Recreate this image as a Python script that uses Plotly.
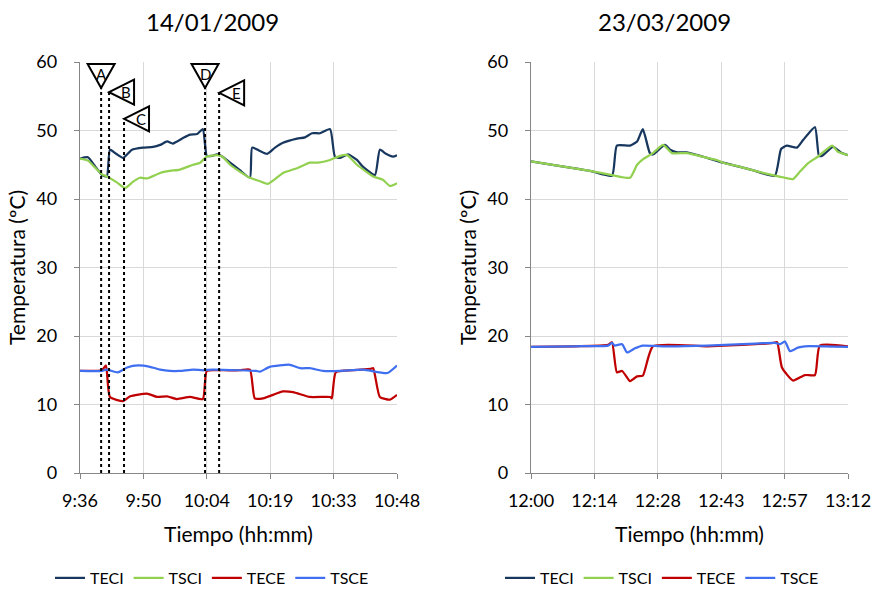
import plotly.graph_objects as go

# ---- 14/01/2009 (minutes elapsed since 9:36) ----
l_teci_t = [0, 1.8, 3.4, 5.0, 6.1, 6.8, 8.2, 9.8, 11.8, 14.3, 16.6, 18.2, 19.8, 21.1, 23.4, 25.0,
            26.6, 27.9, 28.8, 30.0, 31.1, 32.3, 34.1, 36.3, 38.6, 39.1, 40.9, 42.5, 44.3, 46.1,
            49.3, 51.1, 52.7, 54.5, 56.8, 57.9, 59.1, 60.9, 62.9, 64.3, 67.0, 68.1, 69.5, 71.1, 72.0]
l_teci_v = [45.9, 46.1, 44.8, 43.5, 43.3, 47.2, 46.6, 46.0, 47.2, 47.5, 47.6, 47.9, 48.4, 48.1, 48.9, 49.4,
            49.5, 50.2, 46.3, 46.3, 46.5, 46.2, 45.3, 44.2, 43.1, 47.5, 47.0, 46.6, 47.5, 48.2,
            48.8, 49.0, 49.6, 49.6, 50.2, 46.2, 46.0, 46.5, 45.7, 44.7, 43.5, 47.2, 46.6, 46.2, 46.4]

l_tsci_t = [0, 1.8, 3.4, 5.0, 6.1, 8.2, 10.2, 12.0, 13.6, 15.2, 18.2, 20.4, 22.7, 25.7, 27.3, 28.8,
            31.1, 32.3, 34.1, 36.3, 38.6, 40.9, 42.7, 44.3, 46.1, 49.3, 52.2, 54.1, 56.8, 59.1,
            60.7, 62.9, 66.6, 68.8, 70.4, 72.0]
l_tsci_v = [45.9, 45.6, 44.6, 43.6, 43.3, 42.5, 41.6, 42.5, 43.1, 43.0, 43.8, 44.1, 44.3, 45.0, 45.3, 46.2,
            46.4, 46.2, 45.0, 44.0, 43.1, 42.6, 42.2, 42.9, 43.8, 44.5, 45.3, 45.3, 45.7, 46.3,
            46.4, 45.0, 43.3, 42.8, 41.9, 42.3]

l_tece_t = [0, 3.0, 5.0, 5.9, 6.8, 9.8, 11.4, 15.2, 17.5, 19.8, 22.0, 25.0, 27.9, 28.8, 32.0, 36.3,
            38.6, 39.7, 41.6, 46.1, 48.4, 52.2, 56.8, 57.2, 58.1, 62.0, 66.0, 66.6, 68.1, 70.4, 72.0]
l_tece_v = [14.9, 14.9, 15.0, 15.7, 11.1, 10.5, 11.2, 11.6, 11.1, 11.2, 10.8, 11.1, 10.8, 14.9, 15.0, 15.0,
            15.1, 10.9, 10.9, 11.9, 11.8, 11.1, 11.1, 10.9, 14.7, 15.0, 15.2, 15.3, 11.1, 10.7, 11.4]

l_tsce_t = [0, 5.0, 6.0, 8.6, 10.7, 13.2, 15.9, 18.2, 20.4, 22.7, 25.7, 27.9, 30.2, 36.3, 40.0, 40.9,
            43.1, 47.7, 50.0, 52.2, 55.2, 59.1, 64.3, 69.8, 72.0]
l_tsce_v = [14.9, 14.9, 15.1, 14.7, 15.4, 15.7, 15.5, 15.1, 14.9, 14.9, 15.1, 15.0, 15.1, 15.0, 14.9, 14.8,
            15.5, 15.8, 15.3, 15.3, 14.9, 14.9, 15.1, 14.6, 15.7]

# ---- 23/03/2009 (minutes elapsed since 12:00) ----
r_teci_t = [0, 13.4, 18.4, 19.5, 22.5, 24.1, 25.4, 27.0, 27.7, 30.4, 31.6, 33.2, 35.4, 40.0, 43.6,
            47.5, 50.9, 55.4, 56.8, 58.1, 60.4, 61.8, 64.5, 65.4, 66.1, 68.6, 70.6, 72.0]
r_teci_v = [45.5, 44.1, 43.4, 47.8, 47.8, 48.4, 50.2, 46.7, 46.5, 47.9, 47.2, 46.8, 46.8, 46.0, 45.3,
            44.7, 44.1, 43.4, 47.3, 47.8, 47.5, 48.6, 50.5, 46.3, 46.3, 47.6, 46.7, 46.4]

r_tsci_t = [0, 13.4, 18.4, 22.5, 24.1, 25.4, 27.7, 30.0, 32.0, 35.4, 40.0, 42.2, 43.6, 47.5, 50.9,
            55.4, 57.7, 59.5, 61.1, 62.9, 65.2, 68.4, 69.7, 72.0]
r_tsci_v = [45.5, 44.1, 43.5, 43.1, 45.0, 45.8, 46.7, 47.9, 46.7, 46.7, 46.0, 45.7, 45.3, 44.7, 44.1,
            43.4, 43.1, 42.9, 44.0, 45.2, 46.2, 47.8, 46.9, 46.4]

r_tece_t = [0, 10.0, 17.5, 18.4, 19.5, 20.7, 22.5, 23.2, 24.1, 25.4, 27.7, 40.0, 50.9, 55.0, 55.9,
            57.0, 59.5, 62.2, 64.5, 65.6, 72.0]
r_tece_v = [18.4, 18.5, 18.7, 19.1, 14.7, 14.9, 13.4, 13.7, 14.1, 14.2, 18.5, 18.5, 18.8, 19.0, 19.1,
            15.4, 13.5, 14.3, 14.3, 18.6, 18.5]

r_tsce_t = [0, 10.0, 17.5, 18.4, 19.0, 20.7, 21.8, 23.6, 25.4, 30.0, 40.0, 50.9, 55.4, 56.6, 57.7,
            58.8, 60.6, 62.2, 72.0]
r_tsce_v = [18.4, 18.5, 18.6, 19.0, 18.6, 18.8, 17.6, 18.2, 18.6, 18.5, 18.6, 18.9, 19.0, 18.8, 19.2,
            17.8, 18.3, 18.5, 18.4]

# axis ticks (0.01 day steps)
tick_minutes = [0, 14.4, 28.8, 43.2, 57.6, 72.0]
left_ticktext = ["9:36", "9:50", "10:04", "10:19", "10:33", "10:48"]
right_ticktext = ["12:00", "12:14", "12:28", "12:43", "12:57", "13:12"]
chart_titles = ["14/01/2009", "23/03/2009"]

# event markers on the first day
event_labels = ["A", "B", "C", "D", "E"]
event_times = [4.8, 6.6, 10.0, 28.4, 31.6]
event_tops = [56.2, 55.6, 51.7, 56.2, 55.5]
event_pointing = ["down", "left", "left", "down", "left"]

series_names = ["TECI", "TSCI", "TECE", "TSCE"]
colors = ["#17375E", "#92D050", "#C00000", "#3F6FF0"]

FONT = "Lato"
W, H = 877, 590
fig = go.Figure()

left = [(l_teci_t, l_teci_v), (l_tsci_t, l_tsci_v), (l_tece_t, l_tece_v), (l_tsce_t, l_tsce_v)]
right = [(r_teci_t, r_teci_v), (r_tsci_t, r_tsci_v), (r_tece_t, r_tece_v), (r_tsce_t, r_tsce_v)]

line_style = dict(width=2.25, shape="spline", smoothing=0.5)
for name, col, (t, v) in zip(series_names, colors, left):
    fig.add_trace(go.Scatter(x=t, y=v, name=name, mode="lines", line=dict(line_style, color=col),
                             xaxis="x", yaxis="y", legend="legend"))
for name, col, (t, v) in zip(series_names, colors, right):
    fig.add_trace(go.Scatter(x=t, y=v, name=name, mode="lines", line=dict(line_style, color=col),
                             xaxis="x2", yaxis="y2", legend="legend2"))

# dotted event lines with triangle flags
shapes = []
annotations = []
for lab, t, top, d in zip(event_labels, event_times, event_tops, event_pointing):
    shapes.append(dict(type="line", xref="x", yref="y", x0=t, x1=t, y0=0, y1=top,
                       line=dict(color="black", width=2, dash="dot"), layer="above"))
    if d == "down":
        path = "M0,0 L-13.5,24 L13.5,24 Z"
        xs, ys = 0, 14
    else:
        path = "M0,0 L25,12.5 L25,-12.5 Z"
        xs, ys = 17, 0
    shapes.append(dict(type="path", xref="x", yref="y", xsizemode="pixel", ysizemode="pixel",
                       xanchor=t, yanchor=top, path=path, fillcolor="white",
                       line=dict(color="black", width=2), layer="above"))
    annotations.append(dict(x=t, y=top, xref="x", yref="y", text=lab, showarrow=False,
                            xshift=xs, yshift=ys, font=dict(family=FONT, size=15, color="black")))

for title, xc in zip(chart_titles, [212 / W, 664 / W]):
    annotations.append(dict(x=xc, y=1 - 22 / H, xref="paper", yref="paper", text=title,
                            xanchor="center", yanchor="middle", showarrow=False,
                            font=dict(family=FONT, size=24, color="black")))

axis_common = dict(showline=True, linecolor="#868686", linewidth=1.3, ticks="outside", ticklen=5,
                   tickcolor="#868686", showgrid=True, gridcolor="#D9D9D9", gridwidth=1,
                   zeroline=False, tickfont=dict(family=FONT, size=18, color="black"),
                   automargin=False)

xdef = dict(axis_common, range=[0, 72], tickmode="array", tickvals=tick_minutes, ticklabelstandoff=6,
            title=dict(text="Tiempo (hh:mm)", font=dict(family=FONT, size=21, color="black"), standoff=17))
ydef = dict(axis_common, range=[0, 60], dtick=10, tick0=0, ticklabelstandoff=13,
            title=dict(text="Temperatura (ºC)", font=dict(family=FONT, size=21, color="black"), standoff=5))

dom_y = [1 - 473 / H, 1 - 62 / H]
fig.update_layout(
    width=W, height=H, margin=dict(l=0, r=0, t=0, b=0, autoexpand=False),
    paper_bgcolor="white", plot_bgcolor="white",
    font=dict(family=FONT, color="black"),
    xaxis=dict(xdef, domain=[80 / W, 397 / W], ticktext=left_ticktext, anchor="y"),
    yaxis=dict(ydef, domain=dom_y, anchor="x"),
    xaxis2=dict(xdef, domain=[531 / W, 848 / W], ticktext=right_ticktext, anchor="y2"),
    yaxis2=dict(ydef, domain=dom_y, anchor="x2"),
    legend=dict(orientation="h", x=212 / W, y=1 - 578 / H, xanchor="center", yanchor="middle",
                font=dict(family=FONT, size=16, color="black"), bgcolor="rgba(0,0,0,0)"),
    legend2=dict(orientation="h", x=662 / W, y=1 - 578 / H, xanchor="center", yanchor="middle",
                 font=dict(family=FONT, size=16, color="black"), bgcolor="rgba(0,0,0,0)"),
    shapes=shapes, annotations=annotations, showlegend=True,
)

fig.write_html("out.html")
